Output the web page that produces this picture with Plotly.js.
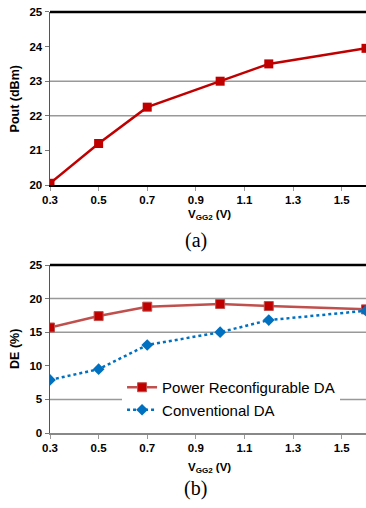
<!DOCTYPE html>
<html>
<head>
<meta charset="utf-8">
<script src="https://cdn.plot.ly/plotly-3.0.1.min.js"></script>
<style>html,body{margin:0;padding:0;background:#fff;}#chart{width:366px;height:508px;}</style>
</head>
<body>
<div id="chart"></div>
<script>
// Data
var vgg2 = [0.3, 0.5, 0.7, 1.0, 1.2, 1.6];
var poutReconfig = [20.05, 21.2, 22.25, 23.0, 23.5, 23.95];
var deReconfig = [15.7, 17.4, 18.8, 19.2, 18.9, 18.4];
var deConventional = [7.9, 9.5, 13.1, 15.0, 16.8, 18.2];
var xTickVals = [0.3, 0.5, 0.7, 0.9, 1.1, 1.3, 1.5];
var xTickText = ['0.3', '0.5', '0.7', '0.9', '1.1', '1.3', '1.5'];
var yTickValsA = [20, 21, 22, 23, 24, 25];
var yTickValsB = [0, 5, 10, 15, 20, 25];
var gridA = [22, 23];
var gridB = [5, 15, 20];
var seriesNames = ['Power Reconfigurable DA', 'Conventional DA'];

var sans = 'Liberation Sans, Arial, sans-serif';
var tickFont = {family: sans, size: 11.5, color: '#000', weight: 700};
function bold(a) { return a.map(function (t) { return '<b>' + t + '</b>'; }); }

var traces = [
  {x: vgg2, y: poutReconfig, xaxis: 'x', yaxis: 'y', mode: 'lines+markers', showlegend: false,
   line: {color: '#C00000', width: 2.5}, marker: {symbol: 'square', size: 9, color: '#C00000'}},
  {x: vgg2, y: deReconfig, xaxis: 'x2', yaxis: 'y2', mode: 'lines+markers', name: seriesNames[0],
   line: {color: '#C0504D', width: 2.5}, marker: {symbol: 'square', size: 9, color: '#C00000', line: {color: '#C0504D', width: 1}}},
  {x: vgg2, y: deConventional, xaxis: 'x2', yaxis: 'y2', mode: 'lines+markers', name: seriesNames[1],
   line: {color: '#0070C0', width: 2.5, dash: 'dot'}, marker: {symbol: 'diamond', size: 9, color: '#0070C0'}}
];

function xax(anchor, lc) {
  return {anchor: anchor, domain: [0, 1], range: [0.3, 1.6], tickmode: 'array', tickvals: xTickVals, ticktext: bold(xTickText),
    ticks: 'outside', ticklen: 4, tickcolor: '#999', showline: true, linecolor: lc, linewidth: 1.5,
    showgrid: false, zeroline: false, tickfont: tickFont, automargin: false, fixedrange: true};
}
function yax(anchor, dom, rng, vals) {
  return {anchor: anchor, domain: dom, range: rng, tickmode: 'array', tickvals: vals, ticktext: bold(vals.map(String)),
    ticks: 'outside', ticklen: 4, tickcolor: '#777',
    showline: true, linecolor: '#555', linewidth: 1.5, showgrid: false, zeroline: false,
    tickfont: tickFont, automargin: false, fixedrange: true};
}

var shapes = [];
gridA.forEach(function (g) {
  shapes.push({type: 'line', layer: 'below', xref: 'x domain', x0: 0, x1: 1, yref: 'y', y0: g, y1: g, line: {color: '#999', width: 1.5}});
});
gridB.forEach(function (g) {
  shapes.push({type: 'line', layer: 'below', xref: 'x2 domain', x0: 0, x1: 1, yref: 'y2', y0: g, y1: g, line: {color: '#999', width: 1.5}});
});
shapes.push({type: 'line', xref: 'x domain', x0: 0, x1: 1, yref: 'y domain', y0: 1, y1: 1, line: {color: '#000', width: 2.5}});
shapes.push({type: 'line', xref: 'x2 domain', x0: 0, x1: 1, yref: 'y2 domain', y0: 1, y1: 1, line: {color: '#000', width: 2.5}});

var titleFont = {family: sans, size: 11.5, color: '#000', weight: 700};
var yTitleFont = {family: sans, size: 12.5, color: '#000', weight: 700};
var serif = {family: 'Liberation Serif, Times New Roman, serif', size: 20, color: '#000'};

function ann(text, xref, yref, x, y, font, angle) {
  return {text: text, xref: xref, yref: yref, x: x, y: y, xanchor: 'center', yanchor: 'middle',
    textangle: angle || 0, showarrow: false, font: font};
}
var annotations = [
  ann('<b>V<sub>GG2</sub> (V)</b>', 'paper', 'paper', 0.506, 0.576, titleFont),
  ann('(a)', 'paper', 'paper', 0.462, 0.526, serif),
  ann('<b>V<sub>GG2</sub> (V)</b>', 'paper', 'paper', 0.506, 0.079, titleFont),
  ann('(b)', 'paper', 'paper', 0.462, 0.039, serif),
  ann('<b>Pout (dBm)</b>', 'paper', 'y domain', -0.111, 0.5, yTitleFont, -90),
  ann('<b>DE (%)</b>', 'paper', 'y2 domain', -0.111, 0.5, yTitleFont, -90)
];

var layout = {
  width: 366, height: 508,
  margin: {l: 50, r: 0, t: 0, b: 0},
  paper_bgcolor: '#fff', plot_bgcolor: '#fff',
  xaxis: xax('y', '#000'),
  yaxis: yax('x', [0.6358, 0.9764], [20, 25], yTickValsA),
  xaxis2: xax('y2', '#888'),
  yaxis2: yax('x2', [0.1476, 0.4783], [0, 25], yTickValsB),
  shapes: shapes,
  annotations: annotations,
  showlegend: true,
  legend: {x: 0.228, y: 0.2697, xanchor: 'left', yanchor: 'top', bgcolor: '#fff', borderwidth: 0,
    font: {family: sans, size: 15, color: '#000'}, itemwidth: 30}
};

Plotly.newPlot('chart', traces, layout, {staticPlot: true, displayModeBar: false});
</script>
</body>
</html>
